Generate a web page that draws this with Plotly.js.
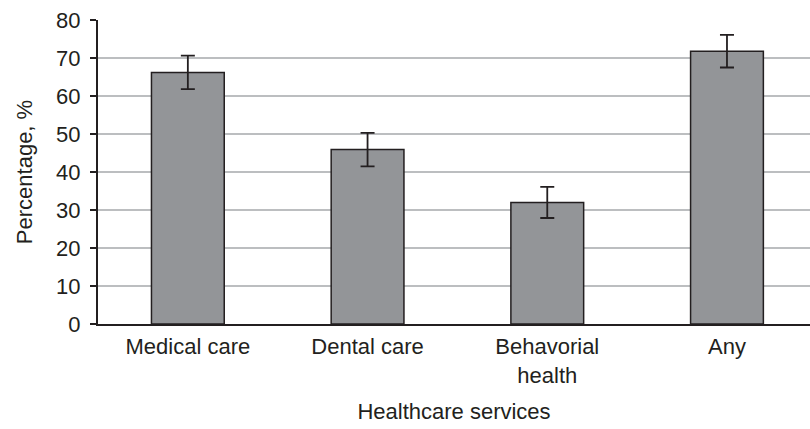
<!DOCTYPE html>
<html>
<head>
<meta charset="utf-8">
<script src="https://cdn.plot.ly/plotly-3.0.1.min.js"></script>
<style>html,body{margin:0;padding:0;background:#fff;}#chart{width:810px;height:429px;}</style>
</head>
<body>
<div id="chart"></div>
<script>
const categories = ["Medical care", "Dental care", "Behavorial<br>health", "Any"];
const percentages = [66.2, 45.9, 32.0, 71.8];
const errors = [4.4, 4.4, 4.1, 4.3];
const yTicks = [0, 10, 20, 30, 40, 50, 60, 70, 80];

const font = {family: "'Liberation Sans', Arial, sans-serif", size: 22, color: "#231f20"};

const trace = {
  type: "bar",
  x: categories,
  y: percentages,
  width: 0.405,
  marker: {color: "#939598", line: {color: "#231f20", width: 1.5}},
  error_y: {type: "data", array: errors, visible: true, color: "#231f20", thickness: 1.8, width: 7}
};

const layout = {
  width: 810, height: 429,
  margin: {l: 98, r: 0, t: 20, b: 105},
  paper_bgcolor: "#fff", plot_bgcolor: "#fff",
  font: font,
  showlegend: false,
  xaxis: {
    type: "category",
    range: [-0.5, 3.462],
    showline: true, linecolor: "#231f20", linewidth: 2,
    ticks: "", showgrid: false, zeroline: false,
    tickfont: font,
    ticklabelstandoff: 2,
    title: {text: "Healthcare services", font: font, standoff: 17}
  },
  yaxis: {
    range: [0, 80],
    tickvals: yTicks,
    showline: true, linecolor: "#231f20", linewidth: 2,
    ticks: "outside", ticklen: 6, tickwidth: 1.5, tickcolor: "#231f20",
    showgrid: true, gridcolor: "#bcbec0", gridwidth: 1.5,
    zeroline: false,
    tickfont: font,
    ticklabelstandoff: 5,
    title: {text: "Percentage, %", font: font, standoff: 17}
  }
};

Plotly.newPlot("chart", [trace], layout, {staticPlot: true, displayModeBar: false});
</script>
</body>
</html>
